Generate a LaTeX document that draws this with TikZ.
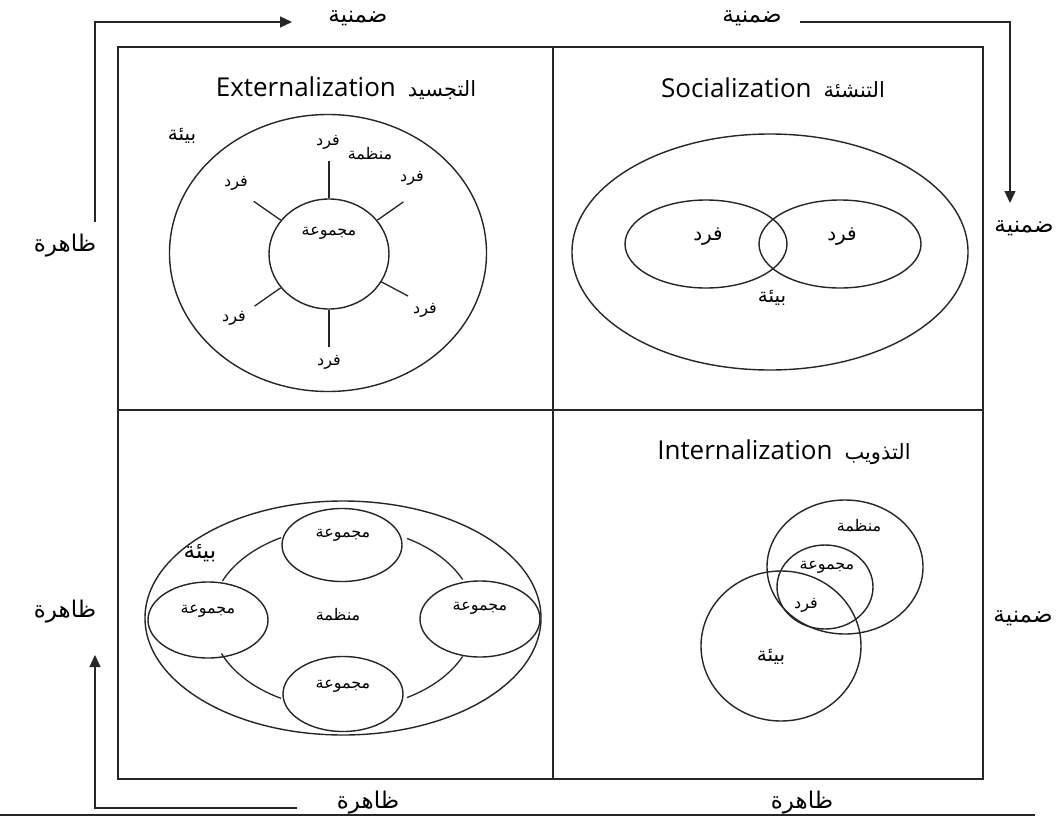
\documentclass[tikz,border=0pt]{standalone}
\usepackage{fontspec}
\usetikzlibrary{shapes.geometric,arrows.meta}
\setmainfont{Open Sans}
\newfontfamily\arabicfont[Script=Arabic]{DejaVu Sans}
\TeXXeTstate=1
\newcommand{\rl}[1]{\beginR#1\endR}
\newcommand{\artitle}[1]{{\arabicfont\fontsize{21}{25}\selectfont\beginR#1\endR}}
\begin{document}
\begin{tikzpicture}[x=1pt,y=-1pt,
  frame/.style={draw=black!85,line width=1.4pt},
  ring/.style={ellipse,draw=black!85,line width=1.4pt,inner sep=0pt},
  spoke/.style={draw=black!85,line width=1.3pt},
  plain/.style={draw=black!85,line width=1.3pt},
  flow/.style={draw=black!85,line width=1.3pt,-{Triangle[length=12pt,width=11pt]}},
  title/.style={font=\fontsize{26}{30}\selectfont,inner sep=0pt},
  lbl/.style={font=\arabicfont\fontsize{16}{19}\selectfont,inner sep=0pt},
  biglbl/.style={font=\arabicfont\fontsize{20}{24}\selectfont,inner sep=0pt},
  side/.style={font=\arabicfont\fontsize{23}{27}\selectfont,inner sep=0pt},
]
\useasboundingbox (0,0) rectangle (1063,819);
\fill[white] (0,0) rectangle (1063,819);

% outer frame and quadrant dividers
\draw[frame] (118,47) rectangle (983,779);
\draw[frame] (553,47) -- (553,779);
\draw[frame] (118,410) -- (983,410);
\draw[frame,line width=1.8pt] (0,815) -- (1035,815);

% ---------- Externalization ----------
\node[title] (tExt) at (346,88) {Externalization\hspace{12pt}\artitle{التجسيد}};
\node[ring,minimum width=317,minimum height=277] (envE) at (328,253) {};
\node[ring,minimum width=120,minimum height=110] (grpE) at (329,254) {};
\node[lbl] (grpEl) at (329,233) {\rl{مجموعة}};
\node[biglbl] (envEl) at (182,136) {\rl{بيئة}};
\node[lbl] (orgEl) at (370,154) {\rl{منظمة}};
\draw[spoke] (grpE.north) -- ++(0,-37);
\draw[spoke] (grpE.south) -- ++(0,37);
\draw[spoke] (grpE.145) -- ++(145:33pt);
\draw[spoke] (grpE.35) -- ++(35:32pt);
\draw[spoke] (grpE.215) -- ++(215:32pt);
\draw[spoke] (grpE.-28) -- ++(-28:30pt);
\node[lbl] (fE1) at (328,142) {\rl{فرد}};
\node[lbl] (fE2) at (412,178) {\rl{فرد}};
\node[lbl] (fE3) at (236,183) {\rl{فرد}};
\node[lbl] (fE4) at (234,318) {\rl{فرد}};
\node[lbl] (fE5) at (425,310) {\rl{فرد}};
\node[lbl] (fE6) at (329,362) {\rl{فرد}};

% ---------- Socialization ----------
\node[title] (tSoc) at (773,88) {Socialization\hspace{12pt}\artitle{التنشئة}};
\node[ring,minimum width=396,minimum height=236] (envS) at (770,252) {};
\node[ring,minimum width=162,minimum height=88] (indS1) at (706,244) {};
\node[ring,minimum width=162,minimum height=88] (indS2) at (840,244) {};
\node[biglbl] (indS1l) at (708,237) {\rl{فرد}};
\node[biglbl] (indS2l) at (842,237) {\rl{فرد}};
\node[biglbl] (envSl) at (772,298) {\rl{بيئة}};

% ---------- Combination (organisation of groups) ----------
\node[ring,minimum width=396,minimum height=234] (envC) at (343,618) {};
\coordinate (orgC) at (343,618);
\draw[plain] ([shift={(25:132pt and 91pt)}]orgC) arc[start angle=25,end angle=61,x radius=132pt,y radius=91pt];
\draw[plain] ([shift={(118:132pt and 91pt)}]orgC) arc[start angle=118,end angle=156,x radius=132pt,y radius=91pt];
\draw[plain] ([shift={(203:132pt and 91pt)}]orgC) arc[start angle=203,end angle=242,x radius=132pt,y radius=91pt];
\draw[plain] ([shift={(299:132pt and 91pt)}]orgC) arc[start angle=299,end angle=335,x radius=132pt,y radius=91pt];
\node[ring,minimum width=120,minimum height=73] (gC1) at (342,545) {};
\node[ring,minimum width=120,minimum height=75] (gC2) at (343,694) {};
\node[ring,minimum width=120,minimum height=76] (gC3) at (208,620) {};
\node[ring,minimum width=120,minimum height=76] (gC4) at (480,619) {};
\node[lbl] (gC1l) at (343,535) {\rl{مجموعة}};
\node[lbl] (gC2l) at (343,686) {\rl{مجموعة}};
\node[lbl] (gC3l) at (208,611) {\rl{مجموعة}};
\node[lbl] (gC4l) at (480,608) {\rl{مجموعة}};
\node[lbl] (orgCl) at (338,615) {\rl{منظمة}};
\node[side] (envCl) at (200,553) {\rl{بيئة}};

% ---------- Internalization ----------
\node[title] (tInt) at (784,452) {Internalization\hspace{12pt}\artitle{التذويب}};
\node[ring,minimum width=156,minimum height=134] (orgI) at (845,567) {};
\node[ring,minimum width=96,minimum height=84] (grpI) at (825,587) {};
\node[ring,minimum width=160,minimum height=150] (envI) at (781,646) {};
\node[lbl] (orgIl) at (859,526) {\rl{منظمة}};
\node[lbl] (grpIl) at (827,567) {\rl{مجموعة}};
\node[lbl] (indIl) at (806,605) {\rl{فرد}};
\node[biglbl] (envIl) at (771,657) {\rl{بيئة}};

% ---------- axis labels ----------
\node[side] (zL1) at (65,246) {\rl{ظاهرة}};
\node[side] (zL2) at (65,612) {\rl{ظاهرة}};
\node[side] (zB1) at (368,803) {\rl{ظاهرة}};
\node[side] (zB2) at (802,803) {\rl{ظاهرة}};
\node[side] (dT1) at (358,18) {\rl{ضمنية}};
\node[side] (dT2) at (752,18) {\rl{ضمنية}};
\node[side] (dR1) at (1024,228) {\rl{ضمنية}};
\node[side] (dR2) at (1023,618) {\rl{ضمنية}};

% ---------- flow arrows ----------
\coordinate (sTL) at (95,222);
\coordinate (cTL) at (95,22);
\coordinate (eTL) at (292,22);
\draw[flow] (sTL) -- (cTL) -- (eTL);
\coordinate (sTR) at (800,22);
\coordinate (cTR) at (1010,22);
\coordinate (eTR) at (1010,203);
\draw[flow] (sTR) -- (cTR) -- (eTR);
\coordinate (sBL) at (297,808);
\coordinate (cBL) at (95,808);
\coordinate (eBL) at (95,655);
\draw[flow] (sBL) -- (cBL) -- (eBL);
\end{tikzpicture}
\end{document}
